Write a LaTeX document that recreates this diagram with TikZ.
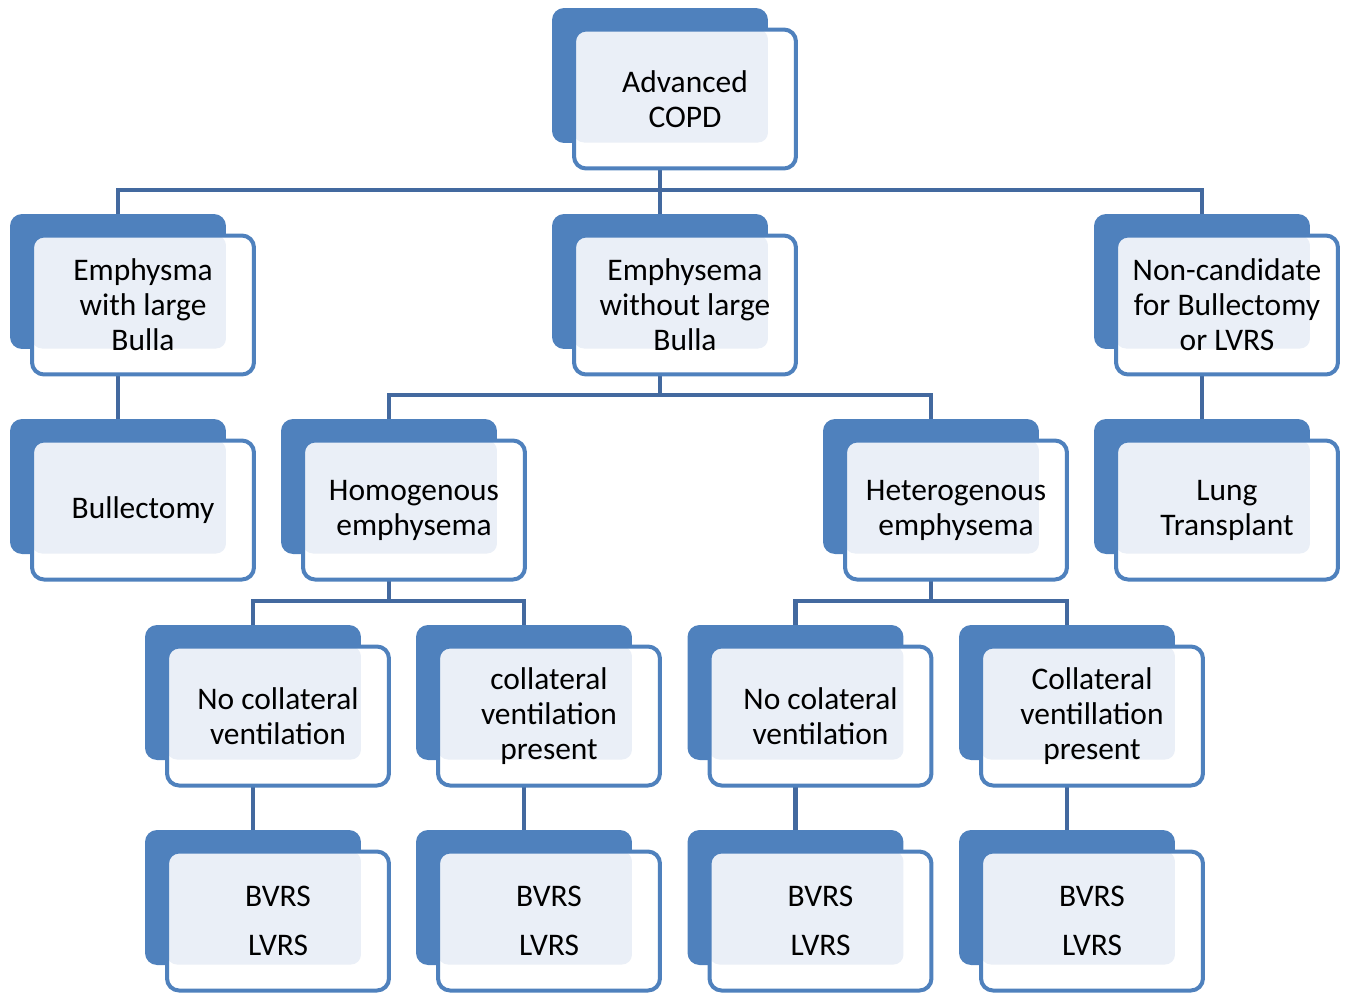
\documentclass[tikz,border=0pt]{standalone}
\usepackage{fontspec}
\setmainfont{Carlito}
\usetikzlibrary{calc,backgrounds}

\definecolor{boxblue}{HTML}{4F81BD}
\definecolor{boxlight}{HTML}{EAEFF7}
\definecolor{linkblue}{HTML}{43699F}

\tikzset{
	backbox/.style={fill=boxblue, rounded corners=0.24cm, minimum width=4.32cm, minimum height=2.7cm, inner sep=0pt},
	frontbox/.style={draw=boxblue, fill=white, line width=0.08cm, rounded corners=0.24cm,
		minimum width=4.44cm, minimum height=2.78cm, inner sep=0pt, align=center,
		font=\fontsize{17.9}{19.9}\selectfont,
		path picture={\fill[boxlight, rounded corners=0.2cm] (path picture bounding box.north west) rectangle ($(path picture bounding box.south east)+(-0.56cm,0.52cm)$);}},
	link/.style={draw=linkblue, line width=0.09cm}
}

\begin{document}
\begin{tikzpicture}[x=0.02cm, y=-0.02cm]
	\useasboundingbox (0,0) rectangle (1346,992);

	% Back blocks of every box
	\node[backbox] (copd-b) at (660, 75.5) {};

	\node[backbox] (bulla-b) at (118, 281.5) {};
	\node[backbox] (nobulla-b) at (660, 281.5) {};
	\node[backbox] (noncand-b) at (1202, 281.5) {};

	\node[backbox] (bullect-b) at (118, 486.5) {};
	\node[backbox] (homog-b) at (389, 486.5) {};
	\node[backbox] (heterog-b) at (931, 486.5) {};
	\node[backbox] (transpl-b) at (1202, 486.5) {};

	\node[backbox] (homno-b) at (253, 692.5) {};
	\node[backbox] (homyes-b) at (524, 692.5) {};
	\node[backbox] (hetno-b) at (795.5, 692.5) {};
	\node[backbox] (hetyes-b) at (1067, 692.5) {};

	\node[backbox] (homnotx-b) at (253, 897.5) {};
	\node[backbox] (homyestx-b) at (524, 897.5) {};
	\node[backbox] (hetnotx-b) at (795.5, 897.5) {};
	\node[backbox] (hetyestx-b) at (1067, 897.5) {};

	% Front boxes with the texts
	\node[frontbox] (copd) at (685, 99) {Advanced\\COPD};

	\node[frontbox] (bulla) at (143, 305) {Emphysma\\with large\\Bulla};
	\node[frontbox] (nobulla) at (685, 305) {Emphysema\\without large\\Bulla};
	\node[frontbox] (noncand) at (1227, 305) {Non-candidate\\for Bullectomy\\or LVRS};

	\node[frontbox] (bullect) at (143, 510) {Bullectomy};
	\node[frontbox] (homog) at (414, 510) {Homogenous\\emphysema};
	\node[frontbox] (heterog) at (956, 510) {Heterogenous\\emphysema};
	\node[frontbox] (transpl) at (1227, 510) {Lung\\Transplant};

	\node[frontbox] (homno) at (278, 716) {No collateral\\ventilation};
	\node[frontbox] (homyes) at (549, 716) {collateral\\ventilation\\present};
	\node[frontbox] (hetno) at (820.5, 716) {No colateral\\ventilation};
	\node[frontbox] (hetyes) at (1092, 716) {Collateral\\ventillation\\present};

	\node[frontbox] (homnotx) at (278, 921) {BVRS\\[0.28cm]LVRS};
	\node[frontbox] (homyestx) at (549, 921) {BVRS\\[0.28cm]LVRS};
	\node[frontbox] (hetnotx) at (820.5, 921) {BVRS\\[0.28cm]LVRS};
	\node[frontbox] (hetyestx) at (1092, 921) {BVRS\\[0.28cm]LVRS};

	% Draw the connectors behind the boxes
	\begin{scope}[on background layer]
		\coordinate (bar0) at (0, 190);
		\coordinate (bar1) at (0, 395);
		\coordinate (bar2) at (0, 601);

		\draw[link] (copd-b) -- (copd-b |- bar0);
		\draw[link] (bulla-b.north) |- (noncand-b |- bar0) -- (noncand-b.north);
		\draw[link] (copd-b |- bar0) -- (nobulla-b.north);

		\draw[link] (bulla-b) -- (bullect-b.north);
		\draw[link] (noncand-b) -- (transpl-b.north);
		\draw[link] (nobulla-b) -- (nobulla-b |- bar1);
		\draw[link] (homog-b.north) |- (heterog-b |- bar1) -- (heterog-b.north);

		\draw[link] (homog-b) -- (homog-b |- bar2);
		\draw[link] (homno-b.north) |- (homyes-b |- bar2) -- (homyes-b.north);
		\draw[link] (heterog-b) -- (heterog-b |- bar2);
		\draw[link] (hetno-b.north) |- (hetyes-b |- bar2) -- (hetyes-b.north);

		\draw[link] (homno-b) -- (homnotx-b.north);
		\draw[link] (homyes-b) -- (homyestx-b.north);
		\draw[link] (hetno-b) -- (hetnotx-b.north);
		\draw[link] (hetyes-b) -- (hetyestx-b.north);
	\end{scope}
\end{tikzpicture}
\end{document}
